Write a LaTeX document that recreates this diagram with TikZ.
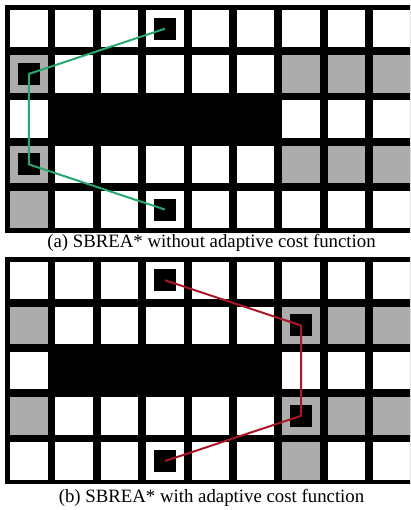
\documentclass[tikz,border=0pt]{standalone}
\usepackage{fontspec}
\setmainfont{Liberation Serif}
\definecolor{cellgray}{RGB}{172,172,172}
\definecolor{pathgreen}{RGB}{38,168,110}
\definecolor{pathred}{RGB}{170,24,40}

\begin{document}
\begin{tikzpicture}[x=1pt,y=-1pt,
  cell/.style={fill=white,minimum size=37.5pt,inner sep=0pt,outer sep=0pt},
  graycell/.style={cell,fill=cellgray},
  marker/.style={fill=black,minimum size=22pt,inner sep=0pt,outer sep=0pt},
  route/.style={line width=2pt,line join=round},
  caption/.style={font=\fontsize{18.8}{21}\selectfont,inner sep=0pt}
]
\useasboundingbox (0,0) rectangle (410,510);
\begin{scope}
\clip (0,0) rectangle (410,510);
% (a) grid
\fill[black] (5,5.5) rectangle (420,232.8);
\foreach \r in {1,...,5}
  \foreach \c in {1,...,9}
    \node[cell] (t-\r-\c) at ({28.75+45.375*(\c-1)},{28.75+45.2*(\r-1)}) {};
\foreach \r/\c in {2/1,4/1,5/1,2/7,2/8,2/9,4/7,4/8,4/9}
  \node[graycell] at (t-\r-\c) {};
\fill[black] (t-3-2.north west) rectangle (t-3-6.south east);
% (b) grid
\fill[black] (5,257) rectangle (420,484.3);
\foreach \r in {1,...,5}
  \foreach \c in {1,...,9}
    \node[cell] (b-\r-\c) at ({28.75+45.375*(\c-1)},{280.25+45.2*(\r-1)}) {};
\foreach \r/\c in {2/1,4/1,2/7,2/8,2/9,4/7,4/8,4/9,5/7}
  \node[graycell] at (b-\r-\c) {};
\fill[black] (b-3-2.north west) rectangle (b-3-6.south east);
\end{scope}

% start and goal markers
\node[marker] (ta) at (t-1-4) {};
\node[marker] (tb) at (t-2-1) {};
\node[marker] (tc) at (t-4-1) {};
\node[marker] (td) at (t-5-4) {};
\node[marker] (ba) at (b-1-4) {};
\node[marker] (bb) at (b-2-7) {};
\node[marker] (bc) at (b-4-7) {};
\node[marker] (bd) at (b-5-4) {};

\draw[route,pathgreen] (ta.center) -- (tb.center) -- (tc.center) -- (td.center);
\draw[route,pathred] (ba.center) -- (bb.center) -- (bc.center) -- (bd.center);

\node[caption] (capa) at (211.5,243) {(a) SBREA* without adaptive cost function};
\node[caption] (capb) at (211.5,498) {(b) SBREA* with adaptive cost function};
\end{tikzpicture}
\end{document}
